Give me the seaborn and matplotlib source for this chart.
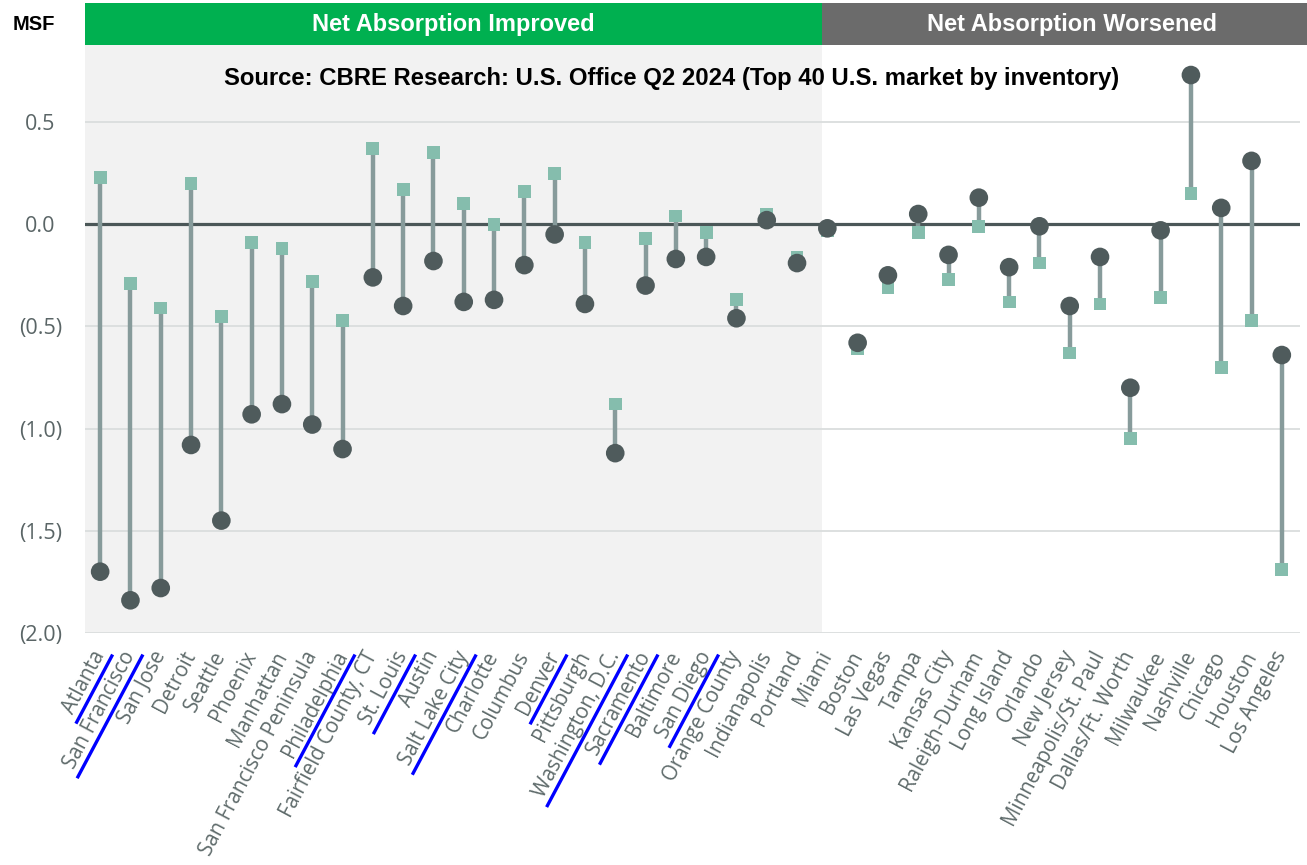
import numpy as np
import pandas as pd
import seaborn as sns
import matplotlib.pyplot as plt
from matplotlib.patches import Rectangle
from matplotlib.lines import Line2D
import matplotlib.transforms as mtransforms

markets = ["Atlanta", "San Francisco", "San Jose", "Detroit", "Seattle", "Phoenix", "Manhattan",
           "San Francisco Peninsula", "Philadelphia", "Fairfield County, CT", "St. Louis", "Austin",
           "Salt Lake City", "Charlotte", "Columbus", "Denver", "Pittsburgh", "Washington, D.C.",
           "Sacramento", "Baltimore", "San Diego", "Orange County", "Indianapolis", "Portland",
           "Miami", "Boston", "Las Vegas", "Tampa", "Kansas City", "Raleigh-Durham", "Long Island",
           "Orlando", "New Jersey", "Minneapolis/St. Paul", "Dallas/Ft. Worth", "Milwaukee",
           "Nashville", "Chicago", "Houston", "Los Angeles"]
# circles (previous quarter) and squares (Q2 2024), MSF
q1 = [-1.70, -1.84, -1.78, -1.08, -1.45, -0.93, -0.88, -0.98, -1.10, -0.26,
      -0.40, -0.18, -0.38, -0.37, -0.20, -0.05, -0.39, -1.12, -0.30, -0.17,
      -0.16, -0.46, 0.02, -0.19, -0.02, -0.58, -0.25, 0.05, -0.15, 0.13,
      -0.21, -0.01, -0.40, -0.16, -0.80, -0.03, 0.73, 0.08, 0.31, -0.64]
q2 = [0.23, -0.29, -0.41, 0.20, -0.45, -0.09, -0.12, -0.28, -0.47, 0.37,
      0.17, 0.35, 0.10, 0.00, 0.16, 0.25, -0.09, -0.88, -0.07, 0.04,
      -0.04, -0.37, 0.05, -0.16, -0.03, -0.61, -0.31, -0.04, -0.27, -0.01,
      -0.38, -0.19, -0.63, -0.39, -1.05, -0.36, 0.15, -0.70, -0.47, -1.69]
highlighted = ["Atlanta", "San Francisco", "Philadelphia", "St. Louis", "Salt Lake City",
               "Denver", "Washington, D.C.", "Sacramento", "San Diego"]
n_improved = 24
yticks = [0.5, 0.0, -0.5, -1.0, -1.5, -2.0]
ytick_labels = ["0.5", "0.0", "(0.5)", "(1.0)", "(1.5)", "(2.0)"]

df = pd.DataFrame({"market": markets, "q1": q1, "q2": q2})
df["pos"] = np.arange(len(df))

sns.set_style("white")
plt.rcParams['font.family'] = ['Liberation Sans', 'DejaVu Sans']

fig = plt.figure(figsize=(13.07, 8.65), dpi=100)
ax = fig.add_axes([85 / 1307, 1 - 633 / 865, (1300 - 85) / 1307, (633 - 45) / 865])

split = n_improved - 0.16
x_right = 39.6
ax.set_xlim(-0.5, x_right)
ax.set_ylim(-2.0, 0.877)
ax.axvspan(-0.5, split, color="#f2f2f2", zorder=0, lw=0)

for v in yticks:
    if v != 0:
        ax.axhline(v, color="#dadddd", lw=1.3, zorder=1)
ax.axhline(0, color="#4b5758", lw=2.3, zorder=2)

ax.vlines(df["pos"], df["q1"], df["q2"], color="#879b9b", lw=3.2, zorder=3)
sns.scatterplot(data=df, x="pos", y="q2", ax=ax, marker="s", s=85, color="#85bdad",
                edgecolor="none", zorder=4, legend=False)
sns.scatterplot(data=df, x="pos", y="q1", ax=ax, marker="o", s=180, color="#4f5b5c",
                edgecolor="none", zorder=5, legend=False)

for s in ax.spines.values():
    s.set_visible(False)
ax.set_xlabel("")
ax.set_ylabel("")

ax.set_yticks(yticks)
ax.set_yticklabels(ytick_labels, family=["Open Sans", "DejaVu Sans"], fontsize=15.5, color="#5a6566")
ax.tick_params(axis="y", length=0, pad=32)
for lbl in ax.get_yticklabels():
    lbl.set_horizontalalignment("center")

ax.set_xticks(df["pos"])
ax.set_xticklabels(df["market"], rotation=62, ha="right", va="center", rotation_mode="anchor",
                   family=["Open Sans", "DejaVu Sans"], fontsize=14.8, color="#5f6b6b")
ax.tick_params(axis="x", length=0, pad=14)

# header bars
trans = mtransforms.blended_transform_factory(ax.transData, fig.transFigure)
ax.add_patch(Rectangle((-0.5, 1 - 45 / 865), split + 0.5, 42 / 865, transform=trans,
                       color="#00b050", clip_on=False, lw=0))
ax.add_patch(Rectangle((split, 1 - 45 / 865), 40.5 - split, 42 / 865, transform=trans,
                       color="#6b6b6b", clip_on=False, lw=0))
ax.text((split - 0.5) / 2, 1 - 24 / 865, "Net Absorption Improved", transform=trans,
        ha="center", va="center", color="white", fontsize=17, fontweight="bold")
ax.text((split + 40.3) / 2, 1 - 24 / 865, "Net Absorption Worsened", transform=trans,
        ha="center", va="center", color="white", fontsize=17, fontweight="bold")

fig.text(672 / 1307, 1 - 79 / 865,
         "Source: CBRE Research: U.S. Office Q2 2024 (Top 40 U.S. market by inventory)",
         ha="center", va="center", fontsize=17.2, fontweight="bold", color="black")
fig.text(34 / 1307, 1 - 24 / 865, "MSF", ha="center", va="center", fontsize=14.5,
         fontweight="bold", color="black")

# blue underline marks beneath selected market labels
fig.canvas.draw()
renderer = fig.canvas.get_renderer()
theta = np.deg2rad(62)
u = np.array([np.cos(theta), np.sin(theta)])
nrm = np.array([np.sin(theta), -np.cos(theta)])
for lbl in ax.get_xticklabels():
    if lbl.get_text() in highlighted:
        anchor = np.array(lbl.get_transform().transform(lbl.get_position()))
        w, h, d = renderer.get_text_width_height_descent(lbl.get_text(),
                                                         lbl.get_fontproperties(), ismath=False)
        p0 = anchor + 12 * nrm + 4 * u
        p1 = p0 - (w + 10) * u
        pts = fig.transFigure.inverted().transform(np.vstack([p0, p1]))
        fig.add_artist(Line2D(pts[:, 0], pts[:, 1], transform=fig.transFigure,
                              color="#0000ff", lw=2.4, solid_capstyle="butt"))

fig.savefig("out.png", dpi=100)
